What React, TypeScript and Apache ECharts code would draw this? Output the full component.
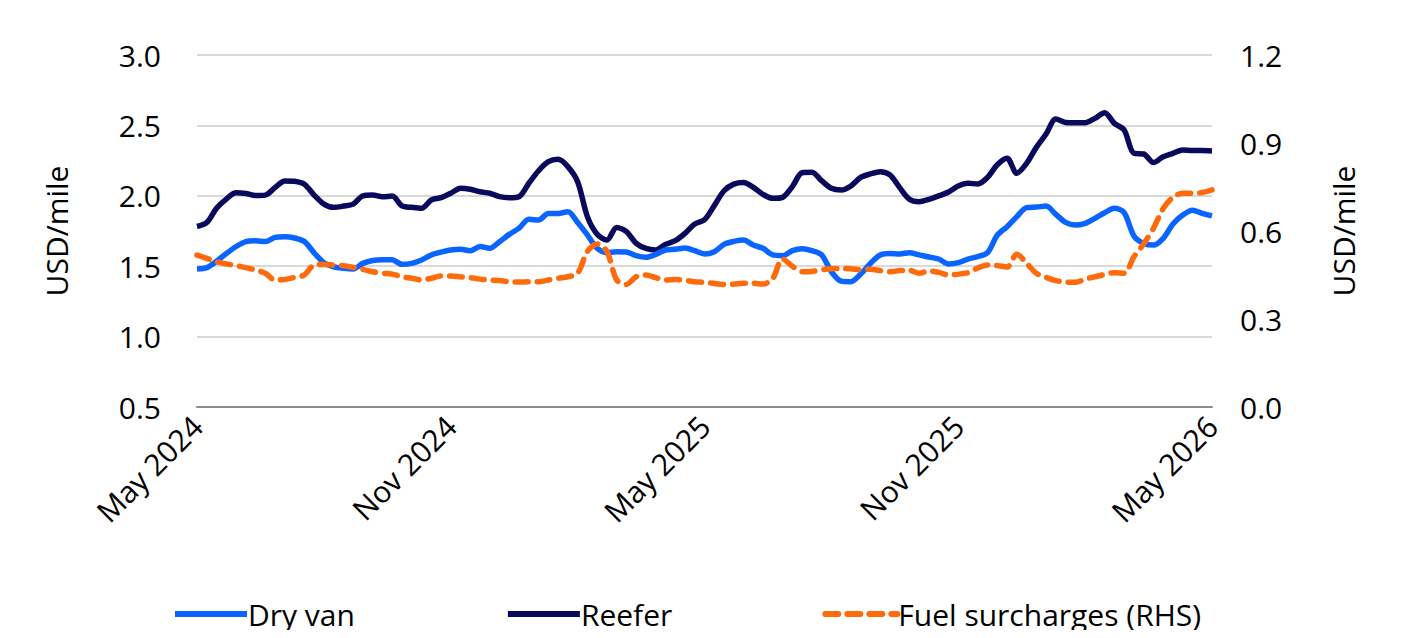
import React, { useEffect, useRef } from "react";
import * as echarts from "echarts";

const dryVan = [
  1.48, 1.49, 1.535, 1.59, 1.64, 1.675, 1.68, 1.675, 1.705, 1.71,
  1.70, 1.675, 1.595, 1.525, 1.495, 1.485, 1.48, 1.52, 1.54, 1.545,
  1.545, 1.513, 1.52, 1.544, 1.58, 1.60, 1.615, 1.62, 1.61, 1.64,
  1.627, 1.674, 1.726, 1.77, 1.833, 1.828, 1.875, 1.875, 1.887, 1.81,
  1.722, 1.627, 1.596, 1.603, 1.601, 1.575, 1.563, 1.584, 1.615, 1.62,
  1.629, 1.61, 1.587, 1.603, 1.655, 1.676, 1.686, 1.65, 1.627, 1.58,
  1.575, 1.61, 1.624, 1.61, 1.58, 1.461, 1.394, 1.39, 1.444, 1.52,
  1.58, 1.591, 1.587, 1.596, 1.58, 1.565, 1.551, 1.516, 1.525, 1.551,
  1.568, 1.596, 1.72, 1.781, 1.852, 1.916, 1.92, 1.927, 1.868, 1.811,
  1.792, 1.804, 1.84, 1.88, 1.911, 1.88, 1.715, 1.662, 1.65, 1.698,
  1.799, 1.863, 1.898, 1.875, 1.858,
];

const reefer = [
  1.782, 1.81, 1.911, 1.977, 2.021, 2.016, 2.002, 2.005, 2.059, 2.106,
  2.103, 2.082, 2.005, 1.941, 1.918, 1.927, 1.941, 2.0, 2.005, 1.993,
  1.998, 1.928, 1.918, 1.911, 1.97, 1.987, 2.018, 2.053, 2.046, 2.029,
  2.018, 1.994, 1.987, 1.994, 2.089, 2.178, 2.242, 2.259, 2.207, 2.10,
  1.852, 1.727, 1.686, 1.775, 1.745, 1.662, 1.626, 1.615, 1.655, 1.681,
  1.733, 1.799, 1.83, 1.93, 2.036, 2.083, 2.095, 2.06, 2.01, 1.982,
  1.989, 2.065, 2.164, 2.167, 2.107, 2.053, 2.041, 2.07, 2.131, 2.155,
  2.171, 2.148, 2.058, 1.975, 1.958, 1.975, 1.999, 2.027, 2.07, 2.089,
  2.084, 2.131, 2.22, 2.266, 2.16, 2.23, 2.344, 2.439, 2.545, 2.521,
  2.519, 2.519, 2.55, 2.59, 2.514, 2.467, 2.302, 2.297, 2.236, 2.278,
  2.302, 2.326, 2.321, 2.321, 2.319,
];

const fuel = [
  0.518, 0.507, 0.495, 0.488, 0.482, 0.475, 0.467, 0.456, 0.433, 0.435,
  0.442, 0.45, 0.484, 0.486, 0.484, 0.482, 0.476, 0.469, 0.461, 0.456,
  0.453, 0.444, 0.439, 0.433, 0.439, 0.447, 0.447, 0.444, 0.441, 0.436,
  0.433, 0.431, 0.427, 0.426, 0.427, 0.427, 0.433, 0.439, 0.444, 0.456,
  0.53, 0.556, 0.53, 0.433, 0.418, 0.444, 0.45, 0.441, 0.433, 0.435,
  0.432, 0.427, 0.425, 0.421, 0.418, 0.419, 0.422, 0.422, 0.419, 0.439,
  0.505, 0.48, 0.461, 0.462, 0.468, 0.471, 0.472, 0.471, 0.468, 0.47,
  0.465, 0.461, 0.465, 0.466, 0.456, 0.464, 0.459, 0.45, 0.453, 0.458,
  0.474, 0.484, 0.482, 0.477, 0.521, 0.49, 0.456, 0.442, 0.431, 0.426,
  0.425, 0.436, 0.444, 0.452, 0.458, 0.456, 0.512, 0.556, 0.609, 0.677,
  0.715, 0.729, 0.729, 0.731, 0.74,
];

const MONTHS = ["Jan", "Feb", "Mar", "Apr", "May", "Jun", "Jul", "Aug", "Sep", "Oct", "Nov", "Dec"];
const START = Date.UTC(2024, 4, 6);
const weeks: string[] = dryVan.map((_, i) => {
  const d = new Date(START + i * 7 * 86400000);
  return MONTHS[d.getUTCMonth()] + " " + d.getUTCFullYear();
});
const tickIndices = [0, 26, 52, 78, 104];

const FONT = "'Open Sans', sans-serif";

export default function App() {
  const ref = useRef<HTMLDivElement>(null);
  useEffect(() => {
    if (!ref.current) return;
    const chart = echarts.init(ref.current, undefined, { renderer: "svg" });
    chart.setOption({
      animation: false,
      backgroundColor: "#ffffff",
      textStyle: { fontFamily: FONT, color: "#000" },
      grid: { left: 197, right: 195, top: 55, bottom: 231, containLabel: false },
      legend: {
        top: 599,
        left: 172,
        padding: 0,
        itemWidth: 72,
        itemHeight: 10,
        itemGap: 150,
        itemStyle: { opacity: 0 },
        lineStyle: { width: 6 },
        textStyle: { fontSize: 30, fontFamily: FONT, color: "#000", padding: [0, 0, 0, -4] },
        data: ["Dry van", "Reefer", "Fuel surcharges (RHS)"],
      },
      xAxis: {
        type: "category",
        data: weeks,
        boundaryGap: false,
        axisLine: { show: true, lineStyle: { color: "#8c8c8c", width: 2 } },
        axisTick: { show: false },
        axisLabel: {
          interval: (idx: number) => tickIndices.includes(idx),
          rotate: 45,
          fontSize: 30,
          fontFamily: FONT,
          color: "#000",
          margin: 14,
        },
        splitLine: { show: false },
      },
      yAxis: [
        {
          type: "value",
          min: 0.5,
          max: 3.0,
          interval: 0.5,
          name: "USD/mile",
          nameLocation: "middle",
          nameRotate: 90,
          nameGap: 126,
          nameTextStyle: { fontSize: 30, fontFamily: FONT, color: "#000" },
          axisLine: { show: false },
          axisTick: { show: false },
          axisLabel: {
            fontSize: 30,
            fontFamily: FONT,
            color: "#000",
            margin: 36,
            formatter: (v: number) => v.toFixed(1),
          },
          splitLine: { show: true, lineStyle: { color: "#d9d9d9", width: 2 } },
        },
        {
          type: "value",
          min: 0,
          max: 1.2,
          interval: 0.3,
          name: "USD/mile",
          nameLocation: "middle",
          nameRotate: 90,
          nameGap: 116,
          nameTextStyle: { fontSize: 30, fontFamily: FONT, color: "#000" },
          axisLine: { show: false },
          axisTick: { show: false },
          axisLabel: {
            fontSize: 30,
            fontFamily: FONT,
            color: "#000",
            margin: 28,
            formatter: (v: number) => v.toFixed(1),
          },
          splitLine: { show: false },
        },
      ],
      series: [
        {
          name: "Dry van",
          type: "line",
          data: dryVan,
          yAxisIndex: 0,
          smooth: 0.3,
          showSymbol: false,
          symbol: "none",
          lineStyle: { color: "#0A64FF", width: 5.5 },
          itemStyle: { color: "#0A64FF" },
          z: 3,
        },
        {
          name: "Reefer",
          type: "line",
          data: reefer,
          yAxisIndex: 0,
          smooth: 0.3,
          showSymbol: false,
          symbol: "none",
          lineStyle: { color: "#0A0A5C", width: 5.5 },
          itemStyle: { color: "#0A0A5C" },
          z: 2,
        },
        {
          name: "Fuel surcharges (RHS)",
          type: "line",
          data: fuel,
          yAxisIndex: 1,
          smooth: 0.3,
          showSymbol: false,
          symbol: "none",
          lineStyle: { color: "#FF6A0A", width: 5.5, type: [13, 9], cap: "round" },
          itemStyle: { color: "#FF6A0A" },
          z: 4,
        },
      ],
    });
    return () => chart.dispose();
  }, []);
  return <div ref={ref} style={{ width: 1407, height: 638, margin: -8 }} />;
}
